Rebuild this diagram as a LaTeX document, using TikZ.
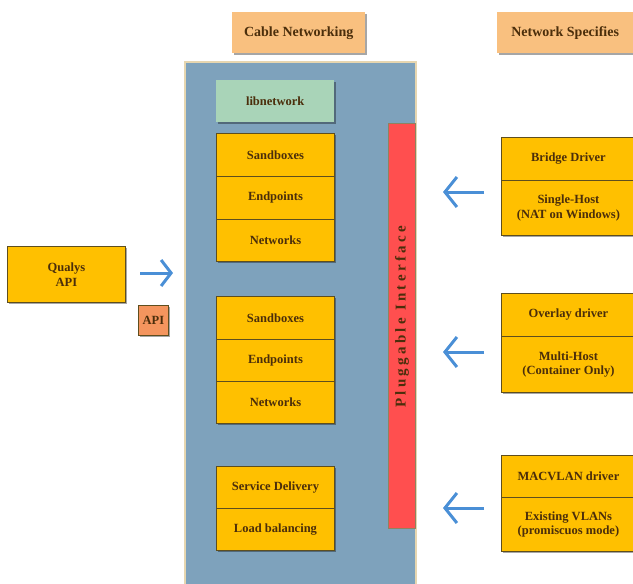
\documentclass[tikz,border=0pt]{standalone}
\usepackage{fontspec}
\setmainfont{Liberation Serif}
\usetikzlibrary{arrows.meta,shadows,calc}
\definecolor{panelblue}{HTML}{7EA2BC}
\definecolor{paneledge}{HTML}{E6D6B0}
\definecolor{lblorange}{HTML}{F9C07F}
\definecolor{boxyellow}{HTML}{FFC000}
\definecolor{boxedge}{HTML}{5E4E1E}
\definecolor{libgreen}{HTML}{A9D4B8}
\definecolor{barred}{HTML}{FF4F4F}
\definecolor{apiorange}{HTML}{F4955E}
\definecolor{arrblue}{HTML}{4A8FD6}
\definecolor{txtbrown}{HTML}{4B2E0B}
\tikzset{
  base/.style={anchor=north west, inner sep=1pt, align=center, text=txtbrown,
    font=\bfseries\fontsize{12.5}{14.5}\selectfont,
    drop shadow={shadow xshift=1.5pt, shadow yshift=-1.5pt, fill=black, opacity=0.35}},
  ybox/.style={base, fill=boxyellow, draw=boxedge, line width=0.9pt, minimum width=118pt},
  lbl/.style={base, fill=lblorange, draw=none, minimum width=133pt, minimum height=41pt,
    font=\bfseries\fontsize{14}{15.5}\selectfont},
  arr/.style={draw=arrblue, line width=3pt, -{Straight Barb[length=12pt, width=30pt, line width=3pt]}},
}
\begin{document}
\begin{tikzpicture}[x=1pt,y=-1pt]
\useasboundingbox (0,0) rectangle (633,584);
\begin{scope}
\clip (0,0) rectangle (633,584);
% labels
\node[lbl] (cablelbl) at (232,12) {Cable Networking};
\node[lbl, minimum width=136pt] (speclbl) at (497,12) {Network Specifies};
% main panel
\node[anchor=north west, fill=panelblue, draw=paneledge, line width=2pt,
      minimum width=231pt, minimum height=540pt, inner sep=0pt] (panel) at (184,61) {};
% libnetwork
\node[base, fill=libgreen, draw=none, minimum width=118pt, minimum height=42pt] (lib) at (216,80) {libnetwork};
% group 1
\node[ybox, minimum height=43pt] (sb1) at (216,133) {Sandboxes};
\node[ybox, minimum height=43pt] (ep1) at (216,176) {Endpoints};
\node[ybox, minimum height=42pt] (nw1) at (216,219) {Networks};
% group 2
\node[ybox, minimum height=43pt] (sb2) at (216,296) {Sandboxes};
\node[ybox, minimum height=42pt] (ep2) at (216,339) {Endpoints};
\node[ybox, minimum height=42pt] (nw2) at (216,381) {Networks};
% group 3
\node[ybox, minimum height=42pt] (sd) at (216,466) {Service Delivery};
\node[ybox, minimum height=42pt] (lb) at (216,508) {Load balancing};
% pluggable bar
\node[anchor=north west, fill=barred, draw=boxedge!70, line width=0.8pt,
      minimum width=27pt, minimum height=405pt, inner sep=0pt] (bar) at (388,123) {};
\node[rotate=90, text=txtbrown, font=\bfseries\fontsize{15}{16}\selectfont\addfontfeatures{LetterSpace=22}] (bartxt) at ($(bar.center)+(0,-9)$) {Pluggable Interface};
% drivers
\node[ybox, minimum width=134pt, minimum height=43pt] (bridge) at (501,137) {Bridge Driver};
\node[ybox, minimum width=134pt, minimum height=55pt] (single) at (501,180) {Single-Host\\(NAT on Windows)};
\node[ybox, minimum width=134pt, minimum height=43pt] (overlay) at (501,293) {Overlay driver};
\node[ybox, minimum width=134pt, minimum height=56pt] (multi) at (501,336) {Multi-Host\\(Container Only)};
\node[ybox, minimum width=134pt, minimum height=42pt] (macvlan) at (501,455) {MACVLAN driver};
\node[ybox, minimum width=134pt, minimum height=54pt] (vlans) at (501,497) {Existing VLANs\\(promiscuos mode)};
% qualys
\node[ybox, minimum width=118pt, minimum height=56pt] (qualys) at (7,246) {Qualys\\API};
\node[base, fill=apiorange, draw=boxedge, line width=0.9pt, minimum width=30pt, minimum height=30pt] (api) at (138,305) {API};
% arrows
\coordinate (a1s) at (484,192); \coordinate (a1e) at (443,192);
\coordinate (a2s) at (484,352); \coordinate (a2e) at (443,352);
\coordinate (a3s) at (484,508); \coordinate (a3e) at (443,508);
\coordinate (a4s) at (140,273); \coordinate (a4e) at (173,273);
\draw[arr] (a1s) -- (a1e);
\draw[arr] (a2s) -- (a2e);
\draw[arr] (a3s) -- (a3e);
\draw[arr, -{Straight Barb[length=10pt, width=26pt, line width=3pt]}] (a4s) -- (a4e);
\end{scope}
\end{tikzpicture}
\end{document}
